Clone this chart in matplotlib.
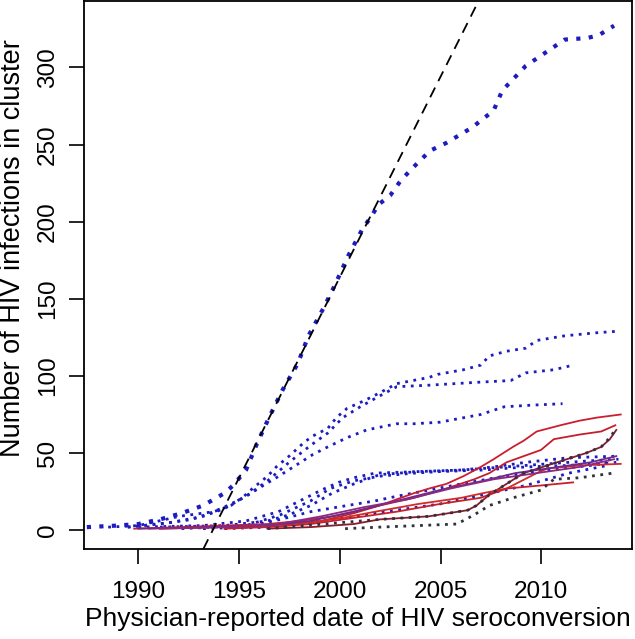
"""
Cumulative HIV infections per transmission cluster vs seroconversion date.
"""
import matplotlib
matplotlib.use("Agg")
import matplotlib.pyplot as plt

plt.rcParams["font.family"] = ["Liberation Sans", "DejaVu Sans"]

# largest cluster (blue dotted, thick)
main_x = [1987.44, 1988.93, 1990, 1991.07, 1992.14, 1993.21, 1993.74, 1994.27, 1994.70,
          1995.34, 1995.88, 1996.52, 1997.16, 1997.91, 1998.44, 1999.19, 1999.72,
          2000.42, 2001.11, 2001.59, 2001.91, 2002.50, 2003.04, 2003.78, 2004.48,
          2005.28, 2006.56, 2007.63, 2008.06, 2009.23, 2010.14, 2011.16, 2012.28,
          2012.87, 2013.61]
main_y = [2, 3, 4, 7, 11, 16, 20, 24, 29, 39, 56, 74, 91, 108, 126, 144, 158, 178,
          195, 204, 211, 217, 227, 237, 246, 251, 261, 272, 285, 301, 309, 318, 319,
          321, 327]

# other blue dotted clusters
blue_x = [
    [1988.50, 1990, 1992.03, 1993.74, 1994.59, 1995.24, 1995.66, 1996.41, 1996.84,
     1997.48, 1998.23, 1998.65, 1999.40, 1999.83, 2000.36, 2001.22, 2001.97, 2002.82,
     2004.42, 2004.85, 2006.13, 2006.99, 2007.42, 2008.27, 2009.23, 2009.77, 2011.16,
     2012.76, 2013.83],
    [1989.47, 1991.60, 1993.21, 1994.27, 1995.34, 1996.41, 1997.48, 1998.55, 1999.40,
     2000.15, 2001.01, 2001.97, 2002.82, 2004.42, 2006.99, 2008.48, 2009.23, 2010.62,
     2011.58],
    [1989.47, 1991.07, 1992.67, 1993.74, 1994.59, 1995.34, 1996.20, 1996.84, 1997.69,
     1998.65, 1999.40, 2000.36, 2001.33, 2002.82, 2003.68, 2004.96, 2006.99, 2008.16,
     2009.45, 2011.05],
    [1990, 1993.21, 1995.34, 1996.95, 1998.01, 1999.08, 1999.94, 2000.69, 2001.75,
     2003.89, 2006.03, 2007.63, 2009.23, 2011.37, 2013.83],
    [1991.07, 1994.27, 1996.41, 1997.48, 1998.55, 1999.62, 2000.69, 2001.97, 2003.89,
     2006.03, 2008.16, 2010.30, 2012.44, 2013.83],
    [1992.14, 1995.34, 1997.05, 1998.55, 1999.51, 2000.69, 2001.97, 2003.68, 2004.96,
     2007.10, 2009.23, 2011.37, 2013.51],
    [1993.21, 1995.34, 1997.05, 1998.55, 2000.36, 2001.75, 2002.82, 2004.42, 2006.03,
     2008.16, 2010.30, 2012.44, 2013.72],
    [1994.27, 1996.41, 1998.55, 2000.69, 2002.82, 2004.96, 2007.10, 2009.23, 2011.37,
     2013.29],
]
blue_y = [
    [2, 3, 9, 12, 16, 22, 27, 35, 41, 48, 57, 61, 66, 73, 79, 84, 89, 95, 99, 101,
     104, 107, 113, 116, 118, 123, 126, 128, 129],
    [2, 5, 9, 14, 22, 32, 44, 55, 63, 73, 80, 87, 93, 94, 96, 97, 102, 104, 107],
    [2, 4, 7, 12, 17, 22, 29, 34, 41, 49, 54, 60, 65, 69, 69, 70, 75, 80, 81, 82],
    [2, 3, 6, 12, 19, 26, 31, 34, 37, 38, 39, 41, 44, 47, 48],
    [2, 3, 6, 10, 16, 24, 30, 36, 38, 39, 41, 43, 45, 46],
    [1, 3, 10, 19, 27, 32, 35, 37, 38, 39, 41, 42, 44],
    [1, 2, 7, 12, 16, 19, 22, 26, 30, 35, 39, 42, 44],
    [1, 2, 5, 9, 13, 17, 23, 29, 37, 42],
]

# dark dotted clusters
dark_x = [
    [2000.26, 2001.97, 2003.89, 2005.81, 2006.67, 2007.42, 2008.59, 2009.98, 2010.62,
     2011.90, 2013.56],
    [1996.41, 2001.97, 2004.42, 2006.35, 2006.78, 2007.42, 2008.27, 2009.12, 2010.30,
     2011.26, 2012.22, 2012.97, 2013.40, 2013.72],
]
dark_y = [
    [1, 2, 3, 4, 10, 16, 21, 26, 33, 34, 37],
    [1, 7, 9, 13, 16, 23, 30, 37, 42, 46, 50, 54, 60, 66],
]

# red / maroon / purple solid clusters
red_x = [
    [1989.79, 1992.14, 1994.27, 1996.41, 1998.01, 1999.62, 2000.69, 2001.97, 2002.82,
     2003.68, 2004.42, 2005.28, 2006.13, 2006.99, 2007.63, 2008.59, 2009.12, 2009.77,
     2010.94, 2011.90, 2012.76, 2013.94],
    [1990.53, 1993.21, 1995.34, 1997.48, 1999.08, 2000.69, 2001.97, 2003.68, 2005.28,
     2006.67, 2007.42, 2008.27, 2009.12, 2009.98, 2010.62, 2011.90, 2012.97, 2013.67],
    [1996.41, 1998.55, 2000.69, 2001.97, 2004.42, 2006.35, 2006.78, 2007.42, 2008.27,
     2009.12, 2010.30, 2011.26, 2012.22, 2012.97, 2013.40, 2013.72],
    [1991.07, 1994.27, 1996.41, 1998.55, 2000.15, 2001.75, 2003.89, 2006.03, 2007.10,
     2008.27, 2009.77, 2010.30, 2011.90, 2013.94],
    [1994.27, 1996.41, 1998.55, 2000.69, 2002.82, 2004.96, 2006.99, 2008.27, 2009.98,
     2011.58],
    [1990, 1993.21, 1996.41, 1998.55, 2000.69, 2002.82, 2004.96, 2007.10, 2008.70,
     2010.30, 2012.44, 2013.72],
    [1991.07, 1994.27, 1996.95, 1999.08, 2001.22, 2003.36, 2005.49, 2007.63, 2009.77,
     2011.90, 2013.61],
]
red_y = [
    [1, 2, 3, 4, 6, 9, 12, 16, 20, 24, 27, 30, 35, 41, 46, 54, 58, 64, 68, 71, 73, 75],
    [1, 2, 3, 4, 6, 11, 16, 21, 27, 33, 37, 44, 48, 52, 59, 62, 64, 68],
    [1, 2, 4, 7, 9, 13, 16, 23, 30, 37, 42, 46, 50, 54, 59, 65],
    [1, 2, 3, 5, 8, 12, 17, 21, 24, 27, 37, 40, 42, 43],
    [1, 2, 4, 8, 12, 17, 21, 27, 29, 31],
    [1, 2, 3, 6, 12, 19, 26, 32, 37, 40, 44, 48],
    [1, 2, 4, 9, 15, 20, 27, 33, 37, 41, 46],
]
red_colors = ["#cc1f2e", "#c41e2e", "#8a1a2c", "#d42a2a", "#c8202a", "#6c2a8c", "#8a2a80"]

x_ticks = [1990, 1995, 2000, 2005, 2010]
y_ticks = [0, 50, 100, 150, 200, 250, 300]

BLUE = "#1c1cc0"
dots = (0, (1.0, 2.0))

fig = plt.figure(figsize=(6.35, 6.39), dpi=100)
ax = fig.add_axes([0.1323, 0.1408, 0.8630, 0.8576])

for xs, ys in zip(blue_x, blue_y):
    ax.plot(xs, ys, color=BLUE, lw=2.0, linestyle=dots)
for xs, ys, c in zip(red_x, red_y, red_colors):
    ax.plot(xs, ys, color=c, lw=1.3)
for xs, ys in zip(dark_x, dark_y):
    ax.plot(xs, ys, color="#303040", lw=2.0, linestyle=dots)
ax.plot(main_x, main_y, color=BLUE, lw=3.0, linestyle=dots)

# linear fit to early growth of the largest cluster
ax.axline((1993.69, 0), slope=26.0, color="black", lw=1.3, linestyle=(0, (6, 4)))

ax.set_xlim(1987.3, 2014.5)
ax.set_ylim(-12.2, 343)
ax.set_xticks(x_ticks)
ax.set_yticks(y_ticks)
ax.tick_params(axis="both", direction="out", length=11, width=1.2, labelsize=17.5)
ax.tick_params(axis="x", pad=12)
ax.tick_params(axis="y", pad=7)
for lab in ax.get_yticklabels():
    lab.set_rotation(90)
    lab.set_va("center")
for s in ax.spines.values():
    s.set_linewidth(1.3)
ax.set_xlabel("Physician-reported date of HIV seroconversion", fontsize=19)
ax.set_ylabel("Number of HIV infections in cluster", fontsize=19.5)
ax.xaxis.set_label_coords(0.5, -0.105)
ax.yaxis.set_label_coords(-0.106, 0.55)

fig.savefig("out.png", dpi=100)
